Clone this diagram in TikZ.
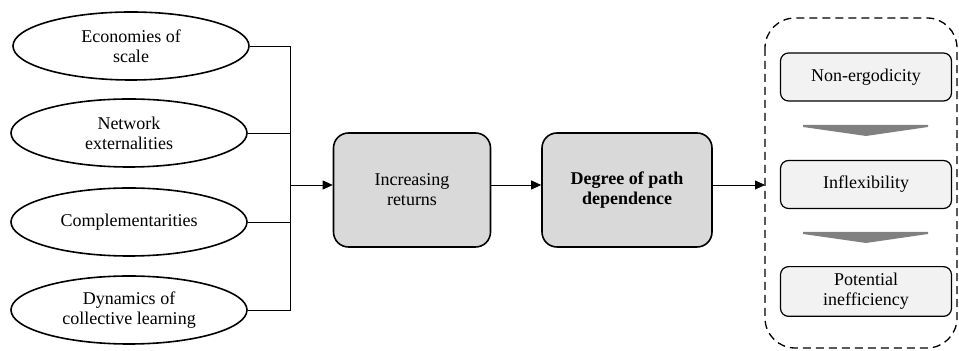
\documentclass[tikz,border=0pt]{standalone}
\usepackage{fontspec}
\setmainfont{Liberation Serif}
\newfontfamily\diagfont{Liberation Serif}
\usepackage{tikz}
\usetikzlibrary{arrows.meta,shapes.geometric}
\definecolor{boxgrey}{RGB}{217,217,217}
\definecolor{lightgrey}{RGB}{242,242,242}
\definecolor{chevgrey}{RGB}{128,128,128}

\tikzset{
  factor/.style={draw,ellipse,thick,minimum width=118pt,minimum height=34pt,
    inner sep=0pt,align=center,font=\diagfont\fontsize{9}{10}\selectfont},
  mainbox/.style={draw,thick,fill=boxgrey,rounded corners=7.5pt,
    minimum height=57pt,align=center,font=\diagfont\fontsize{9}{10}\selectfont},
  effbox/.style={draw,semithick,fill=lightgrey,rounded corners=4pt,minimum width=85.5pt,
    minimum height=24pt,align=center,font=\diagfont\fontsize{9}{10}\selectfont},
  link/.style={-{Triangle[length=5pt,width=4.5pt]}}
}

\begin{document}
\begin{tikzpicture}[x=0.5pt,y=-0.5pt]
        \useasboundingbox (0,0) rectangle (959,351);
        % sources of increasing returns
        \node[factor] (eco) at (131,46) {Economies of\\scale};
        \node[factor] (net) at (129,133) {Network\\externalities};
        \node[factor] (comp) at (129,222) {Complementarities};
        \node[factor] (dyn) at (129,310) {Dynamics of\\collective learning};
        \coordinate (jn) at (290,185);
        \draw (eco.east) -| (jn);
        \draw (net.east) -| (jn);
        \draw (comp.east) -| (jn);
        \draw (dyn.east) -| (jn);
        % chain
        \node[mainbox,minimum width=78.5pt] (inc) at (412,190) {Increasing\\returns};
        \node[mainbox,minimum width=85pt,font=\diagfont\fontsize{9}{10}\selectfont\bfseries]
          (deg) at (627,190) {Degree of path\\dependence};
        \draw[link] (jn) -- (inc.west |- jn);
        \draw[link] (inc.east |- jn) -- (deg.west |- jn);
        % consequences
        \draw[line width=0.65pt,dash pattern=on 4pt off 2.5pt,rounded corners=15pt]
          (765,18) rectangle (957,348);
        \coordinate (cont) at (765,185);
        \draw[link] (deg.east |- cont) -- (cont);
        \node[effbox] (nonerg) at (866,77) {Non-ergodicity};
        \node[effbox] (inflex) at (866,184.5) {Inflexibility};
        \node[effbox] (ineff) at (866,291.5) {Potential\\inefficiency};
        \fill[chevgrey] (803,125) -- (928,125) -- (928,127) -- (866,136)
          -- (803,127) -- cycle;
        \fill[chevgrey] (803,232) -- (928,232) -- (928,234) -- (866,243)
          -- (803,234) -- cycle;
\end{tikzpicture}
\end{document}
